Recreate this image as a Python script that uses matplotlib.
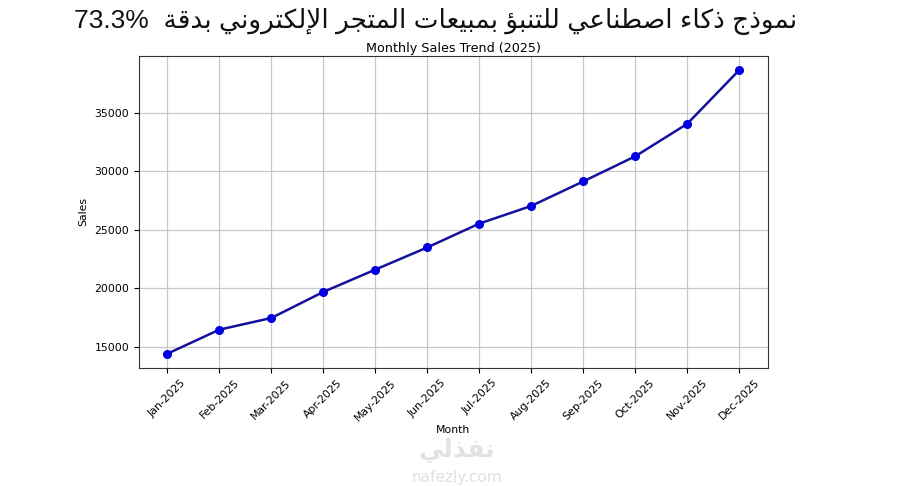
import matplotlib
matplotlib.use("Agg")
import matplotlib.pyplot as plt

months = ["Jan-2025", "Feb-2025", "Mar-2025", "Apr-2025", "May-2025", "Jun-2025",
          "Jul-2025", "Aug-2025", "Sep-2025", "Oct-2025", "Nov-2025", "Dec-2025"]
sales = [14400, 16460, 17460, 19690, 21600, 23500,
         25540, 27050, 29150, 31300, 34080, 38680]
main_title = "نموذج ذكاء اصطناعي للتنبؤ بمبيعات المتجر الإلكتروني بدقة  73.3%"
sub_title = "Monthly Sales Trend (2025)"
watermark_ar = "نفذلي"
watermark_en = "nafezly.com"

# matplotlib has no arabic shaping, so pick presentation forms by hand
# letter -> (isolated form, joins to next letter)
FORMS = {
    "ء": (0xFE80, False), "آ": (0xFE81, False), "أ": (0xFE83, False),
    "ؤ": (0xFE85, False), "إ": (0xFE87, False), "ئ": (0xFE89, True),
    "ا": (0xFE8D, False), "ب": (0xFE8F, True), "ة": (0xFE93, False),
    "ت": (0xFE95, True), "ث": (0xFE99, True), "ج": (0xFE9D, True),
    "ح": (0xFEA1, True), "خ": (0xFEA5, True), "د": (0xFEA9, False),
    "ذ": (0xFEAB, False), "ر": (0xFEAD, False), "ز": (0xFEAF, False),
    "س": (0xFEB1, True), "ش": (0xFEB5, True), "ص": (0xFEB9, True),
    "ض": (0xFEBD, True), "ط": (0xFEC1, True), "ظ": (0xFEC5, True),
    "ع": (0xFEC9, True), "غ": (0xFECD, True), "ف": (0xFED1, True),
    "ق": (0xFED5, True), "ك": (0xFED9, True), "ل": (0xFEDD, True),
    "م": (0xFEE1, True), "ن": (0xFEE5, True), "ه": (0xFEE9, True),
    "و": (0xFEED, False), "ى": (0xFEEF, False), "ي": (0xFEF1, True),
}
LAM_ALEF = {"آ": 0xFEF5, "أ": 0xFEF7, "إ": 0xFEF9, "ا": 0xFEFB}


def shape_word(word):
    # merge lam + alef into ligatures first
    units = []
    i = 0
    while i < len(word):
        c = word[i]
        if c == "ل" and i + 1 < len(word) and word[i + 1] in LAM_ALEF:
            units.append(("LA", LAM_ALEF[word[i + 1]]))
            i += 2
        else:
            units.append(("C", c))
            i += 1
    out = []
    for k, (kind, val) in enumerate(units):
        prev = units[k - 1] if k > 0 else None
        nxt = units[k + 1] if k + 1 < len(units) else None
        prev_joins = prev is not None and prev[0] == "C" and prev[1] in FORMS and FORMS[prev[1]][1]
        if kind == "LA":
            out.append(chr(val + (1 if prev_joins else 0)))
            continue
        if val not in FORMS:
            out.append(val)
            continue
        base, dual = FORMS[val]
        next_ok = nxt is not None and (nxt[0] == "LA" or (nxt[1] in FORMS and nxt[1] != "ء"))
        if val == "ء":
            out.append(chr(base))
        elif dual:
            if prev_joins and next_ok:
                out.append(chr(base + 3))
            elif next_ok:
                out.append(chr(base + 2))
            elif prev_joins:
                out.append(chr(base + 1))
            else:
                out.append(chr(base))
        else:
            out.append(chr(base + 1 if prev_joins else base))
    return "".join(out)


def arabic(text):
    words = text.split(" ")
    vis = []
    for w in reversed(words):
        if any(ch in FORMS for ch in w):
            vis.append(shape_word(w)[::-1])
        else:
            vis.append(w)
    return " ".join(vis)


fig = plt.figure(figsize=(9.13, 4.86), dpi=100)
ax = fig.add_axes([0.152, 0.243, 0.689, 0.642])

x = range(len(months))
ax.plot(x, sales, color="#12129c", linewidth=1.8, marker="o", markersize=5.5,
        markerfacecolor="#0000e0", markeredgecolor="#0000e0")
ax.set_xticks(list(x))
ax.set_xticklabels(months, rotation=45, fontsize=7.8)
ax.tick_params(axis="y", labelsize=7.8)
ax.grid(True, color="#c8c8c8", linewidth=0.9)
ax.set_xlabel("Month", fontsize=7.8, labelpad=2)
ax.set_ylabel("Sales", fontsize=7.8)
ax.set_title(sub_title, fontsize=9.2, pad=3)
for s in ax.spines.values():
    s.set_color("#333333")

fig.text(0.477, 0.955, arabic(main_title), ha="center", va="center",
         fontsize=19, family=["Liberation Sans", "DejaVu Sans"], color="#111111")

# faint site watermark
fig.text(0.5, 0.073, arabic(watermark_ar), ha="center", va="center",
         fontsize=18, fontweight="bold", color="#e2e2e2", zorder=0)
fig.text(0.5, 0.018, watermark_en, ha="center", va="center",
         fontsize=11, color="#e0e0e0", zorder=0)

fig.savefig("out.png", dpi=100)
